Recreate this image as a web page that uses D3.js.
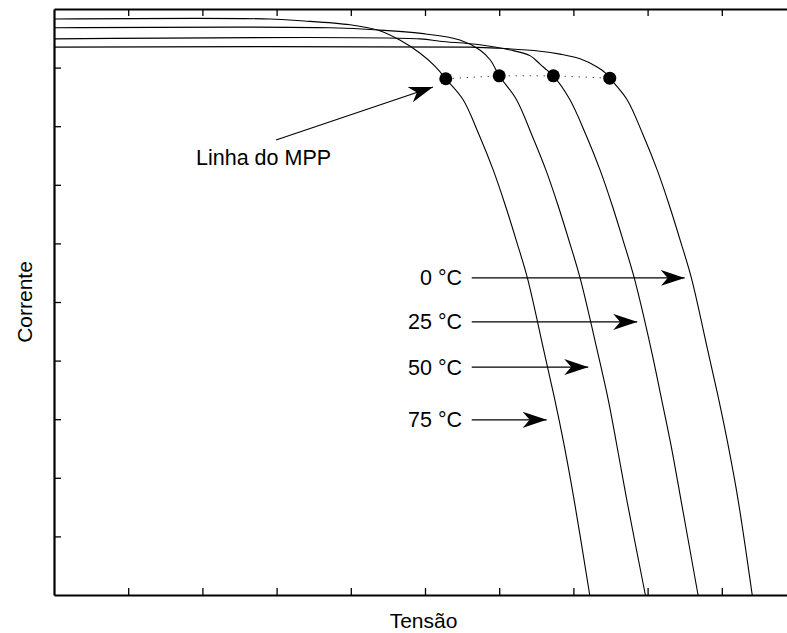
<!DOCTYPE html>
<html>
<head>
<meta charset="utf-8">
<script src="https://cdn.jsdelivr.net/npm/d3@7"></script>
<style>
  body { margin: 0; background: #fff; }
  text { font-family: "Liberation Sans", Arial, sans-serif; fill: #000; }
</style>
</head>
<body>
<script>
// I-V curves of a PV module for several temperatures
var temps = ["0 °C", "25 °C", "50 °C", "75 °C"];

var v0  = [0, 5.61, 6.01, 6.55, 6.82, 7.09, 7.32, 7.43, 7.49, 7.72, 7.94, 8.13, 8.29, 8.45, 8.59, 8.81, 8.96, 9.08, 9.22, 9.41];
var i0  = [9.35, 9.35, 9.33, 9.28, 9.23, 9.15, 9.01, 8.91, 8.82, 8.46, 7.85, 7.25, 6.66, 6.01, 5.41, 4.18, 3.33, 2.59, 1.62, 0];

var v25 = [0, 4.93, 5.20, 5.74, 6.15, 6.42, 6.55, 6.64, 6.73, 6.95, 7.17, 7.36, 7.52, 7.68, 7.82, 8.05, 8.19, 8.31, 8.45, 8.68];
var i25 = [9.49, 9.49, 9.45, 9.39, 9.30, 9.20, 9.06, 8.96, 8.86, 8.46, 7.85, 7.25, 6.66, 6.01, 5.41, 4.18, 3.33, 2.59, 1.62, 0];

var v50 = [0, 3.72, 4.39, 5.03, 5.47, 5.74, 5.88, 6.00, 6.23, 6.44, 6.63, 6.79, 6.95, 7.09, 7.32, 7.47, 7.58, 7.72, 7.97];
var i50 = [9.68, 9.68, 9.64, 9.57, 9.47, 9.30, 9.13, 8.86, 8.46, 7.85, 7.25, 6.66, 6.01, 5.41, 4.18, 3.33, 2.59, 1.62, 0];

var v75 = [0, 2.91, 3.32, 3.99, 4.39, 4.66, 4.93, 5.13, 5.28, 5.51, 5.73, 5.92, 6.08, 6.24, 6.38, 6.60, 6.75, 6.87, 7.01, 7.22];
var i75 = [9.83, 9.83, 9.80, 9.73, 9.63, 9.47, 9.25, 9.03, 8.81, 8.46, 7.85, 7.25, 6.66, 6.01, 5.41, 4.18, 3.33, 2.59, 1.62, 0];

// maximum power points, 75 -> 0 °C
var mppV = [5.28, 6.00, 6.73, 7.49];
var mppI = [8.81, 8.86, 8.86, 8.82];

// arrow tips for the temperature labels (same order as temps)
var tipV = [8.50, 7.86, 7.20, 6.64];
var tipI = [5.41, 4.66, 3.89, 2.99];

var xTicks = [1, 2, 3, 4, 5, 6, 7, 8, 9];
var yTicks = [1, 2, 3, 4, 5, 6, 7, 8, 9];

var W = 787, H = 633;
var margin = {top: 9, left: 54, bottom: 38};

var svg = d3.select("body").append("svg")
    .attr("width", W).attr("height", H);

var x = d3.scaleLinear().domain([0, 10]).range([margin.left, 796]);
var y = d3.scaleLinear().domain([0, 10]).range([H - margin.bottom, margin.top]);

// arrowhead marker
svg.append("defs").append("marker")
    .attr("id", "head")
    .attr("viewBox", "0 0 24 16")
    .attr("refX", 24).attr("refY", 8)
    .attr("markerWidth", 24).attr("markerHeight", 16)
    .attr("markerUnits", "userSpaceOnUse")
    .attr("orient", "auto")
  .append("path")
    .attr("d", "M0,0 L24,8 L0,16 L7,8 Z")
    .attr("fill", "#000");

// curves
var line = d3.line()
    .x(function(d) { return x(d[0]); })
    .y(function(d) { return y(d[1]); })
    .curve(d3.curveCatmullRom.alpha(0.5));

var series = [[v0, i0], [v25, i25], [v50, i50], [v75, i75]];
series.forEach(function(s) {
  svg.append("path")
      .datum(d3.zip(s[0], s[1]))
      .attr("d", line)
      .attr("fill", "none")
      .attr("stroke", "#000")
      .attr("stroke-width", 1.1);
});

// MPP line + dots
var mpp = d3.zip(mppV, mppI);
svg.append("path")
    .datum(mpp)
    .attr("d", d3.line().x(function(d){ return x(d[0]); }).y(function(d){ return y(d[1]); }))
    .attr("fill", "none")
    .attr("stroke", "#000")
    .attr("stroke-width", 1)
    .attr("stroke-dasharray", "1,6");

svg.selectAll(".mpp").data(mpp).enter().append("circle")
    .attr("class", "mpp")
    .attr("cx", function(d){ return x(d[0]); })
    .attr("cy", function(d){ return y(d[1]); })
    .attr("r", 6.5)
    .attr("fill", "#000");

// axes (ticks point inward, no labels)
function styleAxis(g) {
  g.selectAll("text").remove();
  g.select(".domain").attr("stroke-width", 2.2);
  g.selectAll(".tick line").attr("stroke-width", 1.3);
}

svg.append("g")
    .attr("transform", "translate(" + margin.left + ",0)")
    .call(d3.axisLeft(y).tickValues(yTicks).tickSizeInner(-7).tickSizeOuter(0))
    .call(styleAxis);

svg.append("g")
    .attr("transform", "translate(0," + y(0) + ")")
    .call(d3.axisBottom(x).tickValues(xTicks).tickSizeInner(-7).tickSizeOuter(0))
    .call(styleAxis);

svg.append("g")
    .attr("transform", "translate(0," + y(10) + ")")
    .call(d3.axisTop(x).tickValues(xTicks).tickSizeInner(-7).tickSizeOuter(0))
    .call(styleAxis);

// axis titles
svg.append("text")
    .attr("x", (margin.left + W) / 2 + 3)
    .attr("y", 628)
    .attr("text-anchor", "middle")
    .attr("font-size", 21)
    .text("Tensão");

svg.append("text")
    .attr("transform", "translate(32," + y(5) + ") rotate(-90)")
    .attr("text-anchor", "middle")
    .attr("font-size", 21)
    .text("Corrente");

// temperature labels with arrows
var labelX = x(5.50), tailX = x(5.63);
temps.forEach(function(t, k) {
  var ty = y(tipI[k]);
  svg.append("text")
      .attr("x", labelX)
      .attr("y", ty + 7.5)
      .attr("text-anchor", "end")
      .attr("font-size", 21.5)
      .text(t);
  svg.append("line")
      .attr("x1", tailX).attr("y1", ty)
      .attr("x2", x(tipV[k])).attr("y2", ty)
      .attr("stroke", "#000")
      .attr("stroke-width", 1.2)
      .attr("marker-end", "url(#head)");
});

// MPP annotation
svg.append("text")
    .attr("x", 196)
    .attr("y", 165)
    .attr("font-size", 21.5)
    .text("Linha do MPP");

svg.append("line")
    .attr("x1", 276).attr("y1", 140)
    .attr("x2", 433).attr("y2", 87)
    .attr("stroke", "#000")
    .attr("stroke-width", 1.2)
    .attr("marker-end", "url(#head)");
</script>
</body>
</html>
